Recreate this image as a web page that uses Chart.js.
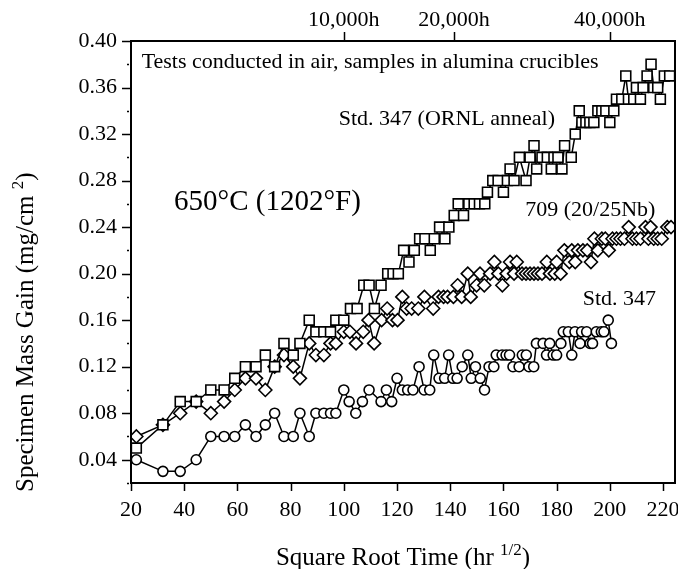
<!DOCTYPE html>
<html>
<head>
<meta charset="utf-8">
<script src="https://cdn.jsdelivr.net/npm/chart.js@4"></script>
<style>
  body { margin: 0; background: #fff; }
  #massGainChart { display: block; }
</style>
</head>
<body>
<canvas id="massGainChart" width="678" height="569"></canvas>
<script>
// square root of time (hr^1/2) and mass gain (mg/cm2)
var ornlTime = [22, 32, 38.5, 44.5, 50, 55, 59, 63, 67, 70.5,
    74, 77.5, 81, 83.5, 87, 89.5, 92.5, 95, 97, 100,
    102.5, 105, 107.5, 109.5, 111.5, 114, 116.5, 118.5, 120.5, 122.5,
    124.5, 126.5, 128.5, 130.5, 132.5, 134, 136, 138, 139.5, 141.5,
    143, 145, 147, 149, 151, 153, 154, 156, 158, 160,
    161.5, 162.5, 164, 166, 168.5, 170, 171.5, 172.5, 174.5, 176.5,
    178, 179, 180.5, 182, 183, 185.5, 187, 188.5, 189.5, 191,
    192.5, 194, 195.5, 197, 198.5, 200, 201.5, 202.5, 204.5, 206,
    207, 209, 210, 211.5, 212.5, 214, 215.5, 216.5, 218, 219,
    220.5, 222.5];
var ornlGain = [0.05, 0.07, 0.09, 0.09, 0.10, 0.10, 0.11, 0.12, 0.12, 0.13,
    0.12, 0.14, 0.13, 0.14, 0.16, 0.15, 0.15, 0.15, 0.16, 0.16,
    0.17, 0.17, 0.19, 0.19, 0.17, 0.19, 0.20, 0.20, 0.20, 0.22,
    0.21, 0.22, 0.23, 0.23, 0.22, 0.23, 0.24, 0.23, 0.24, 0.25,
    0.26, 0.25, 0.26, 0.26, 0.26, 0.26, 0.27, 0.28, 0.28, 0.27,
    0.28, 0.29, 0.28, 0.30, 0.28, 0.30, 0.31, 0.29, 0.30, 0.30,
    0.29, 0.30, 0.30, 0.29, 0.31, 0.30, 0.32, 0.34, 0.33, 0.33,
    0.33, 0.33, 0.34, 0.34, 0.34, 0.33, 0.34, 0.35, 0.35, 0.37,
    0.35, 0.35, 0.36, 0.35, 0.36, 0.37, 0.38, 0.36, 0.36, 0.35,
    0.37, 0.37];

var nbTime = [22, 32, 38.5, 44.5, 50, 55, 59, 63, 67, 70.5,
    74, 77.5, 81, 83.5, 87, 89.5, 92.5, 95, 97, 100,
    102.3, 104.6, 107.3, 109.3, 111.4, 114.2, 116.3, 118.3, 120.2, 122,
    123.6, 125.5, 128, 130.3, 133.6, 135.6, 137.5, 139, 141.2, 142.8,
    144.3, 146.6, 147.7, 149.9, 151.2, 152.8, 155, 156.6, 158.1, 159.6,
    161.2, 162.5, 164, 165, 167, 168.5, 170, 171.5, 173, 174.5,
    176.3, 177.5, 179.3, 180, 181.5, 182.9, 184.8, 185.7, 187, 188,
    189.9, 191.5, 192.9, 194.2, 195.5, 197, 198.3, 199.6, 201, 202.5,
    204, 205.5, 207.1, 208.5, 210, 211.5, 213.4, 214.5, 215.3, 216.5,
    218, 219.5, 221.6, 223];
var nbGain = [0.06, 0.07, 0.08, 0.09, 0.08, 0.09, 0.10, 0.11, 0.11, 0.10,
    0.12, 0.13, 0.12, 0.11, 0.14, 0.13, 0.13, 0.14, 0.14, 0.15,
    0.15, 0.14, 0.15, 0.16, 0.14, 0.16, 0.17, 0.16, 0.16, 0.18,
    0.17, 0.17, 0.17, 0.18, 0.17, 0.18, 0.18, 0.18, 0.18, 0.19,
    0.18, 0.20, 0.18, 0.19, 0.20, 0.19, 0.20, 0.21, 0.20, 0.19,
    0.20, 0.21, 0.20, 0.21, 0.20, 0.20, 0.20, 0.20, 0.20, 0.20,
    0.21, 0.20, 0.20, 0.21, 0.20, 0.22, 0.21, 0.22, 0.21, 0.22,
    0.22, 0.22, 0.21, 0.23, 0.22, 0.23, 0.23, 0.22, 0.23, 0.23,
    0.23, 0.23, 0.24, 0.23, 0.23, 0.23, 0.24, 0.23, 0.24, 0.23,
    0.23, 0.23, 0.24, 0.24];

var stdTime = [22, 32, 38.5, 44.5, 50, 55, 59, 63, 67, 70.5,
    74, 77.5, 81, 83.5, 87, 89.5, 92.5, 95, 97, 100,
    102, 104.5, 107, 109.5, 114, 116, 118, 120, 122, 124,
    126, 128.3, 130.2, 132.3, 133.8, 135.8, 137.9, 139.4, 141, 142.6,
    144.5, 146.6, 147.9, 149.5, 151.3, 152.9, 154.6, 156.4, 157.3, 159.5,
    161, 162.3, 163.6, 165.9, 167.1, 168.6, 169.6, 171.4, 172.4, 174.9,
    176.2, 177.4, 178.7, 180, 181.6, 182.5, 184.4, 185.7, 186.9, 188.8,
    189.4, 191.3, 192.6, 193.5, 194.9, 196.8, 197.8, 199.4, 200.6];
var stdGain = [0.04, 0.03, 0.03, 0.04, 0.06, 0.06, 0.06, 0.07, 0.06, 0.07,
    0.08, 0.06, 0.06, 0.08, 0.06, 0.08, 0.08, 0.08, 0.08, 0.10,
    0.09, 0.08, 0.09, 0.10, 0.09, 0.10, 0.09, 0.11, 0.10, 0.10,
    0.10, 0.12, 0.10, 0.10, 0.13, 0.11, 0.11, 0.13, 0.11, 0.11,
    0.12, 0.13, 0.11, 0.12, 0.11, 0.10, 0.12, 0.12, 0.13, 0.13,
    0.13, 0.13, 0.12, 0.12, 0.13, 0.13, 0.12, 0.12, 0.14, 0.14,
    0.13, 0.14, 0.13, 0.13, 0.14, 0.15, 0.15, 0.13, 0.15, 0.14,
    0.15, 0.15, 0.14, 0.14, 0.15, 0.15, 0.15, 0.16, 0.14];

var bottomTicks = [20, 40, 60, 80, 100, 120, 140, 160, 180, 200, 220];
var gainTicks = [0.04, 0.08, 0.12, 0.16, 0.20, 0.24, 0.28, 0.32, 0.36, 0.40];
var gainMinorTicks = [0.02, 0.06, 0.10, 0.14, 0.18, 0.22, 0.26, 0.30, 0.34, 0.38];
var hourTicks = [100, 141.42, 200];
var hourLabels = ['10,000h', '20,000h', '40,000h'];

var serif = '"Liberation Serif", "Times New Roman", serif';

function toPoints(xs, ys) {
    return xs.map(function(x, i) { return { x: x, y: ys[i] }; });
}

function seriesStyle(label, xs, ys, style, radius) {
    return {
        label: label,
        data: toPoints(xs, ys),
        showLine: true,
        borderColor: '#000',
        borderWidth: 1.5,
        pointStyle: style,
        pointRadius: radius,
        pointBackgroundColor: '#fff',
        pointBorderColor: '#000',
        pointBorderWidth: 1.6
    };
}

function drawText(ctx, text, x, y, size, align) {
    ctx.font = size + 'px ' + serif;
    ctx.textAlign = align || 'left';
    ctx.textBaseline = 'middle';
    ctx.fillText(text, x, y);
}

function noPadding(scale) {
    scale.paddingLeft = 0;
    scale.paddingRight = 0;
    scale.paddingTop = 0;
    scale.paddingBottom = 0;
}

// axis frame, tick marks, titles and notes
var decorPlugin = {
    id: 'decor',
    afterDraw: function(chart) {
        var ctx = chart.ctx;
        var area = chart.chartArea;
        var xs = chart.scales.x, ys = chart.scales.y, xt = chart.scales.xTop;
        ctx.save();
        ctx.strokeStyle = '#000';
        ctx.fillStyle = '#000';

        ctx.lineWidth = 1.5;
        ctx.beginPath();
        bottomTicks.forEach(function(v) {
            var px = Math.round(xs.getPixelForValue(v)) + 0.5;
            ctx.moveTo(px, area.bottom); ctx.lineTo(px, area.bottom + 8);
        });
        hourTicks.forEach(function(v) {
            var px = Math.round(xt.getPixelForValue(v)) + 0.5;
            ctx.moveTo(px, area.top); ctx.lineTo(px, area.top - 9);
        });
        gainTicks.forEach(function(v) {
            var py = Math.round(ys.getPixelForValue(v)) + 0.5;
            ctx.moveTo(area.left - 9, py); ctx.lineTo(area.left, py);
        });
        gainMinorTicks.forEach(function(v) {
            var py = Math.round(ys.getPixelForValue(v)) + 0.5;
            ctx.moveTo(area.left - 4, py); ctx.lineTo(area.left - 2, py);
        });
        ctx.stroke();

        ctx.lineWidth = 2;
        ctx.strokeRect(area.left, area.top, area.right - area.left, area.bottom - area.top);

        // notes inside the plot
        drawText(ctx, 'Tests conducted in air, samples in alumina crucibles',
            xs.getPixelForValue(24), ys.getPixelForValue(0.382), 22);
        drawText(ctx, 'Std. 347 (ORNL anneal)',
            xs.getPixelForValue(179.4), ys.getPixelForValue(0.333), 22, 'right');
        drawText(ctx, '650\u00B0C (1202\u00B0F)',
            xs.getPixelForValue(36.2), ys.getPixelForValue(0.261), 29);
        drawText(ctx, '709 (20/25Nb)',
            xs.getPixelForValue(168.2), ys.getPixelForValue(0.2545), 22);
        drawText(ctx, 'Std. 347',
            xs.getPixelForValue(189.8), ys.getPixelForValue(0.178), 22);

        // x axis title with superscript
        ctx.textBaseline = 'alphabetic';
        ctx.textAlign = 'left';
        var main = 'Square Root Time (hr ';
        ctx.font = '25px ' + serif;
        var w1 = ctx.measureText(main).width;
        ctx.font = '17px ' + serif;
        var w2 = ctx.measureText('1/2').width;
        ctx.font = '25px ' + serif;
        var w3 = ctx.measureText(')').width;
        var startX = (area.left + area.right) / 2 - (w1 + w2 + w3) / 2;
        var baseY = 565;
        ctx.fillText(main, startX, baseY);
        ctx.font = '17px ' + serif;
        ctx.fillText('1/2', startX + w1, baseY - 10);
        ctx.font = '25px ' + serif;
        ctx.fillText(')', startX + w1 + w2, baseY);

        // y axis title, rotated
        ctx.translate(33, 492);
        ctx.rotate(-Math.PI / 2);
        var ymain = 'Specimen Mass Gain (mg/cm ';
        ctx.font = '25px ' + serif;
        var yw1 = ctx.measureText(ymain).width;
        ctx.fillText(ymain, 0, 0);
        ctx.font = '17px ' + serif;
        var yw2 = ctx.measureText('2').width;
        ctx.fillText('2', yw1, -10);
        ctx.font = '25px ' + serif;
        ctx.fillText(')', yw1 + yw2, 0);
        ctx.restore();
    }
};

function renderMassGainChart() {
    var ctx = document.getElementById('massGainChart').getContext('2d');

    new Chart(ctx, {
        type: 'scatter',
        data: {
            datasets: [
                seriesStyle('Std. 347 (ORNL anneal)', ornlTime, ornlGain, 'rect', 7),
                seriesStyle('709 (20/25Nb)', nbTime, nbGain, 'rectRot', 6.5),
                seriesStyle('Std. 347', stdTime, stdGain, 'circle', 5)
            ]
        },
        options: {
            responsive: false,
            animation: false,
            layout: { autoPadding: false, padding: { left: 0, right: 3, top: 0, bottom: 0 } },
            plugins: {
                legend: { display: false },
                tooltip: { enabled: false }
            },
            scales: {
                x: {
                    type: 'linear',
                    position: 'bottom',
                    min: 20,
                    max: 224.5,
                    afterFit: function(scale) { scale.height = 86; noPadding(scale); },
                    afterBuildTicks: function(scale) {
                        scale.ticks = bottomTicks.map(function(v) { return { value: v }; });
                    },
                    grid: { display: false, drawTicks: false },
                    border: { display: false },
                    ticks: {
                        padding: 14,
                        color: '#000',
                        maxRotation: 0,
                        font: { family: serif, size: 22 },
                        callback: function(v) { return String(v); }
                    }
                },
                xTop: {
                    type: 'linear',
                    position: 'top',
                    min: 20,
                    max: 224.5,
                    afterFit: function(scale) { scale.height = 41; noPadding(scale); },
                    afterBuildTicks: function(scale) {
                        scale.ticks = hourTicks.map(function(v) { return { value: v }; });
                    },
                    grid: { display: false, drawTicks: false },
                    border: { display: false },
                    ticks: {
                        padding: 8,
                        color: '#000',
                        maxRotation: 0,
                        autoSkip: false,
                        font: { family: serif, size: 22 },
                        callback: function(v, i) { return hourLabels[i]; }
                    }
                },
                y: {
                    type: 'linear',
                    min: 0.02,
                    max: 0.40,
                    afterFit: function(scale) { scale.width = 131; noPadding(scale); },
                    afterBuildTicks: function(scale) {
                        scale.ticks = gainTicks.map(function(v) { return { value: v }; });
                    },
                    grid: { display: false, drawTicks: false },
                    border: { display: false },
                    ticks: {
                        padding: 14,
                        color: '#000',
                        font: { family: serif, size: 22 },
                        callback: function(v) { return v.toFixed(2); }
                    }
                }
            }
        },
        plugins: [decorPlugin]
    });
}

document.addEventListener('DOMContentLoaded', renderMassGainChart);
</script>
</body>
</html>
